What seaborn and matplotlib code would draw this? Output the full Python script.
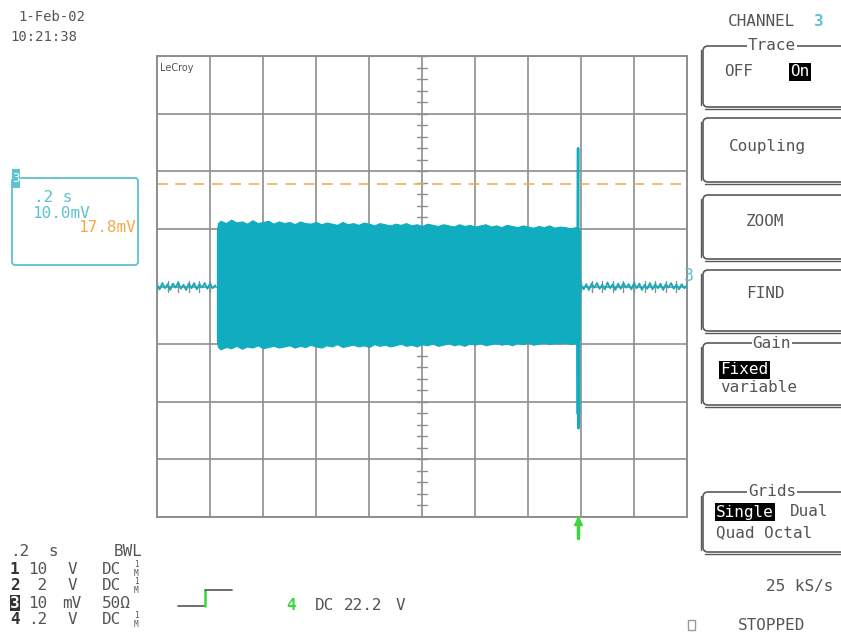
import matplotlib
matplotlib.use("Agg")
import numpy as np
import pandas as pd
import seaborn as sns
import matplotlib.pyplot as plt
from matplotlib.patches import FancyBboxPatch, Rectangle

# ---------------- data (time in s, amplitude in mV) ----------------
time_per_div = 0.2
mv_per_div = 10.0
cursor_mv = 17.8

pre_t = [0.00, 0.01, 0.02, 0.03, 0.04, 0.05, 0.06, 0.07, 0.08, 0.09, 0.10, 0.11,
         0.12, 0.13, 0.14, 0.15, 0.16, 0.17, 0.18, 0.19, 0.20, 0.21, 0.22]
pre_v = [0.2, -0.5, 0.6, -0.3, 0.4, -0.6, 0.5, -0.2, 0.7, -0.4, 0.3, -0.6,
         0.5, -0.3, 0.6, -0.5, 0.4, -0.2, 0.6, -0.4, 0.5, -0.3, 0.2]

burst_t = [0.226, 0.230,
           0.24, 0.26, 0.28, 0.30, 0.32, 0.34, 0.36, 0.38, 0.40, 0.42,
           0.44, 0.46, 0.48, 0.50, 0.52, 0.54, 0.56, 0.58, 0.60, 0.62,
           0.64, 0.66, 0.68, 0.70, 0.72, 0.74, 0.76, 0.78, 0.80, 0.82,
           0.84, 0.86, 0.88, 0.90, 0.92, 0.94, 0.96, 0.98, 1.00, 1.02,
           1.04, 1.06, 1.08, 1.10, 1.12, 1.14, 1.16, 1.18, 1.20, 1.22,
           1.24, 1.26, 1.28, 1.30, 1.32, 1.34, 1.36, 1.38, 1.40, 1.42,
           1.44, 1.46, 1.48, 1.50, 1.52, 1.54, 1.56, 1.58,
           1.590, 1.596]
burst_hi = [9.6, 11.0,
            11.4, 11.0, 11.6, 11.1, 11.3, 10.9, 11.5, 11.0, 11.2, 11.4,
            10.9, 11.3, 11.0, 11.2, 10.8, 11.3, 11.0, 10.9, 11.2, 10.8,
            11.1, 10.9, 10.7, 11.2, 10.8, 11.0, 10.7, 11.1, 10.9, 10.6,
            11.0, 10.8, 10.6, 10.9, 10.7, 11.0, 10.6, 10.8, 10.5, 10.9,
            10.7, 10.5, 10.8, 10.6, 10.4, 10.8, 10.5, 10.7, 10.4, 10.6,
            10.8, 10.4, 10.6, 10.3, 10.7, 10.5, 10.3, 10.6, 10.4, 10.2,
            10.5, 10.3, 10.6, 10.2, 10.4, 10.3, 10.1, 10.3,
            10.2, 9.6]
burst_lo = [-9.4, -10.5,
            -10.9, -10.5, -10.7, -10.3, -10.8, -10.4, -10.6, -10.2, -10.7, -10.5,
            -10.3, -10.6, -10.4, -10.2, -10.6, -10.3, -10.5, -10.1, -10.4, -10.6,
            -10.2, -10.4, -10.0, -10.5, -10.3, -10.1, -10.4, -10.2, -10.5, -10.0,
            -10.3, -10.1, -10.4, -10.2, -9.9, -10.3, -10.1, -10.4, -10.0, -10.2,
            -9.9, -10.3, -10.1, -9.8, -10.2, -10.0, -10.3, -9.9, -10.1, -9.8,
            -10.2, -10.0, -9.8, -10.1, -9.9, -10.2, -9.8, -10.0, -9.7, -10.1,
            -9.9, -9.7, -10.0, -9.8, -9.9, -9.7, -10.0, -9.8,
            -9.8, -9.2]

spike_t = [1.5880, 1.5890, 1.5893, 1.5900, 1.5905, 1.5920]
spike_v = [10.0, 24.0, 0.0, -24.6, -18.0, -9.7]
spike_tail_t = [1.5893, 1.5898]
spike_tail_v = [-9.8, -22.0]

post_t = [1.60, 1.61, 1.62, 1.63, 1.64, 1.65, 1.66, 1.67, 1.68, 1.69, 1.70, 1.71,
          1.72, 1.73, 1.74, 1.75, 1.76, 1.77, 1.78, 1.79, 1.80, 1.81, 1.82, 1.83,
          1.84, 1.85, 1.86, 1.87, 1.88, 1.89, 1.90, 1.91, 1.92, 1.93, 1.94, 1.95,
          1.96, 1.97, 1.98, 1.99, 2.00]
post_v = [0.3, -0.5, 0.4, -0.6, 0.5, -0.2, 0.6, -0.4, 0.3, -0.5, 0.7, -0.3,
          0.4, -0.6, 0.5, -0.4, 0.6, -0.2, 0.4, -0.5, 0.6, -0.3, 0.5, -0.6,
          0.3, -0.4, 0.6, -0.5, 0.4, -0.3, 0.5, -0.6, 0.4, -0.2, 0.6, -0.4,
          0.3, -0.5, 0.4, -0.3, 0.2]

# ---------------- styling ----------------
W, H = 841, 637
sns.set_theme(style="white")
plt.rcParams['font.family'] = ['DejaVu Sans Mono', 'DejaVu Sans']

TRACE = '#0fadbf'
GRID = '#8e8e8e'
TXT = '#555555'
ORANGE = '#f2aa48'
GREEN = '#3ad63a'
CYAN_T = '#5cc3cf'
FS = 11.5

fig = plt.figure(figsize=(W / 100, H / 100), dpi=100)
fig.patch.set_facecolor('white')

# ---------------- scope grid ----------------
L, R, T, B = 157, 687, 56, 517
ax = fig.add_axes([L / W, (H - B) / H, (R - L) / W, (B - T) / H])
ax.set_xlim(0, 10 * time_per_div)
ax.set_ylim(-4 * mv_per_div, 4 * mv_per_div)
ax.set_xticks(np.arange(0, 10 * time_per_div + 1e-9, time_per_div))
ax.set_yticks(np.arange(-4 * mv_per_div, 4 * mv_per_div + 1e-9, mv_per_div))
ax.set_xticklabels([])
ax.set_yticklabels([])
ax.tick_params(length=0)
ax.grid(True, color=GRID, lw=1.2)
for s in ax.spines.values():
    s.set_color(GRID)
    s.set_linewidth(1.4)
ax.set_axisbelow(True)

# center-axis minor ticks
xc = 5 * time_per_div
for yv in np.arange(-4 * mv_per_div, 4 * mv_per_div + 1e-9, mv_per_div / 5):
    ax.plot([xc - 0.018, xc + 0.018], [yv, yv], color=GRID, lw=1.0, zorder=1)
for xv in np.arange(0, 10 * time_per_div + 1e-9, time_per_div / 5):
    ax.plot([xv, xv], [-0.9, 0.9], color=GRID, lw=1.0, zorder=1)

# cursor
ax.axhline(cursor_mv, color=ORANGE, lw=1.1, ls=(0, (7, 5)), zorder=2)

# trace
ax.fill_between(burst_t, burst_lo, burst_hi, color=TRACE, lw=0.8, edgecolor=TRACE, zorder=3)
sns.lineplot(x=pre_t, y=pre_v, ax=ax, color=TRACE, lw=1.3, estimator=None, sort=False, zorder=3)
sns.lineplot(x=post_t, y=post_v, ax=ax, color=TRACE, lw=1.3, estimator=None, sort=False, zorder=3)
sns.lineplot(x=spike_t, y=spike_v, ax=ax, color=TRACE, lw=1.8, estimator=None, sort=False, zorder=4)
sns.lineplot(x=spike_tail_t, y=spike_tail_v, ax=ax, color=TRACE, lw=3.0, estimator=None, sort=False, zorder=4)
ax.set_xlabel('')
ax.set_ylabel('')

ax.text(0.006, 0.985, 'LeCroy', transform=ax.transAxes, fontsize=7, color='#555555',
        va='top', ha='left', family='DejaVu Sans')

# ---------------- overlay for screen annotations ----------------
ox = fig.add_axes([0, 0, 1, 1], zorder=10)
ox.set_xlim(0, W)
ox.set_ylim(H, 0)
ox.axis('off')
ox.patch.set_alpha(0)


def t(x, y, s, **kw):
    kw.setdefault('color', TXT)
    kw.setdefault('fontsize', FS)
    kw.setdefault('va', 'center')
    kw.setdefault('ha', 'left')
    ox.text(x, y, s, **kw)


# top-left date/time
t(18, 17, '1-Feb-02', fontsize=10)
t(10, 37, '10:21:38', fontsize=10)

# channel header
t(728, 21, 'CHANNEL')
t(814, 21, '3', color=CYAN_T, fontweight='bold')

# menu boxes
boxes = [(46, 107, 'Trace'), (118, 182, None), (195, 259, None),
         (270, 331, None), (343, 405, 'Gain'), (492, 552, 'Grids')]
for top, bot, title in boxes:
    p = FancyBboxPatch((703, top), 160, bot - top, boxstyle='round,pad=0,rounding_size=5',
                       fc='none', ec='#5a5a5a', lw=1.2)
    ox.add_patch(p)
    ox.plot([701, 701], [top + 4, bot - 2], color='#5a5a5a', lw=1.0)
    ox.plot([705, 845], [bot + 2, bot + 2], color='#5a5a5a', lw=1.0)
    if title:
        t(772, top, title, ha='center', bbox=dict(fc='white', ec='none', pad=0.5))

t(724, 72, 'OFF')
t(790, 72, 'On', color='white', bbox=dict(fc='black', ec='none', pad=1.0))
t(767, 147, 'Coupling', ha='center')
t(765, 222, 'ZOOM', ha='center')
t(765, 294, 'FIND', ha='center')
t(720, 370, 'Fixed', color='white', bbox=dict(fc='black', ec='none', pad=1.0))
t(720, 388, 'variable')
t(716, 512, 'Single', color='white', bbox=dict(fc='black', ec='none', pad=1.0))
t(790, 512, 'Dual')
t(716, 533, 'Quad Octal')
t(766, 586, '25 kS/s')
ox.add_patch(Rectangle((688, 620), 7, 10, fc='none', ec='#9a9a9a', lw=1.0))
t(738, 626, 'STOPPED')

# left info box (channel 3)
ox.add_patch(FancyBboxPatch((12, 178), 126, 87, boxstyle='round,pad=0,rounding_size=3',
                            fc='none', ec=CYAN_T, lw=1.3))
ox.add_patch(Rectangle((12, 169), 8, 19, fc=CYAN_T, ec='none'))
t(16, 178, '3', color='white', fontsize=9, ha='center')
t(34, 198, '.2 s', color=CYAN_T)
t(32, 213, '10.0mV', color=CYAN_T)
t(136, 228, '17.8mV', color=ORANGE, ha='right')

# right-edge channel marker and trigger marker
t(684, 276, '3', color=CYAN_T, fontsize=12)
ox.plot([578, 578], [518, 538], color=GREEN, lw=2.5)
ox.plot([578], [521], marker='^', color=GREEN, ms=6)

# bottom-left channel table
t(10, 552, '.2')
t(48, 552, 's')
t(114, 552, 'BWL')
rows = [('1', '10', 'V', 'DC'), ('2', ' 2', 'V', 'DC'), ('3', '10', 'mV', '50Ω'), ('4', '.2', 'V', 'DC')]
for i, (ch, val, unit, cpl) in enumerate(rows):
    y = 569 + i * 17
    if ch == '3':
        t(10, y, ch, color='white', fontweight='bold',
          bbox=dict(fc='#333333', ec='none', pad=0.3))
    else:
        t(10, y, ch, fontweight='bold', color='#333333')
    t(28, y, val)
    t(62 if unit == 'mV' else 68, y, unit)
    t(102, y, cpl)
    if ch != '3':
        t(134, y, '1\nM', fontsize=5.5, linespacing=0.9)

# trigger symbol and level
ox.plot([178, 205], [606, 606], color=TXT, lw=1.2)
ox.plot([205, 205], [606, 590], color=GREEN, lw=1.8)
ox.plot([205, 232], [590, 590], color=TXT, lw=1.2)
t(286, 605, '4', color=GREEN, fontweight='bold')
t(315, 605, 'DC')
t(344, 605, '22.2')
t(396, 605, 'V')

fig.savefig('out.png', dpi=100, facecolor='white')
